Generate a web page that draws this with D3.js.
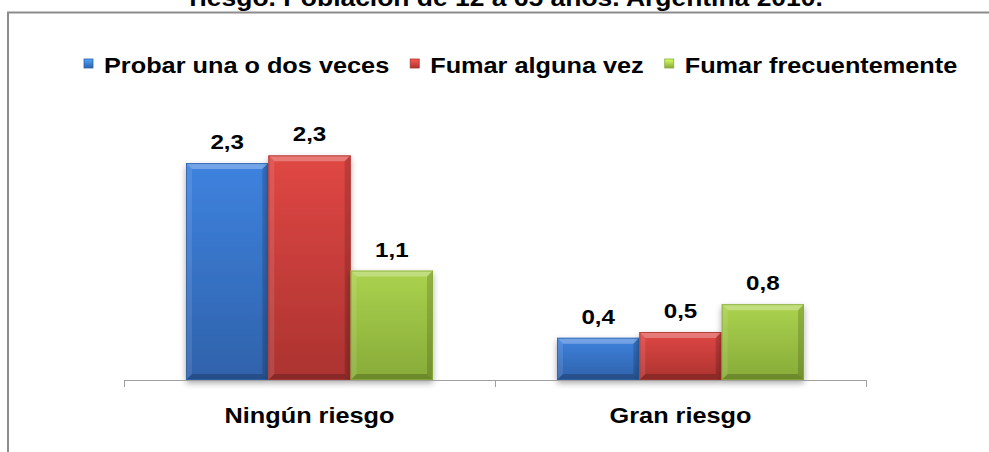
<!DOCTYPE html>
<html>
<head>
<meta charset="utf-8">
<script src="https://cdn.jsdelivr.net/npm/d3@7"></script>
<style>
  html, body { margin: 0; padding: 0; background: #ffffff; }
  svg { display: block; font-family: "Liberation Sans", Arial, sans-serif; }
</style>
</head>
<body>
<svg id="chart" width="989" height="452"></svg>
<script>
// ---- data ----
const titleText = "riesgo. Población de 12 a 65 años. Argentina 2010.";
const categories = ["Ningún riesgo", "Gran riesgo"];
const seriesNames = ["Probar una o dos veces", "Fumar alguna vez", "Fumar frecuentemente"];
const probarValues = [2.26, 0.44];
const fumarAlgunaValues = [2.34, 0.50];
const fumarFrecValues = [1.14, 0.79];
const seriesColors = ["#3b7bd3", "#d44340", "#a2c74a"];
const seriesDark = ["#2f62aa", "#ab3330", "#87ab38"];

const seriesValues = [probarValues, fumarAlgunaValues, fumarFrecValues];

const svg = d3.select("#chart");
const SX = 1.15; // horizontal stretch of the text in the reference

// ---- defs ----
const defs = svg.append("defs");
seriesColors.forEach((c, i) => {
  const g = defs.append("linearGradient").attr("id", "grad" + i)
    .attr("x1", 0).attr("y1", 0).attr("x2", 0).attr("y2", 1);
  g.append("stop").attr("offset", "0%").attr("stop-color", d3.color(c).brighter(0.15));
  g.append("stop").attr("offset", "100%").attr("stop-color", seriesDark[i]);
  const m = defs.append("linearGradient").attr("id", "mgrad" + i)
    .attr("x1", 0).attr("y1", 0).attr("x2", 0).attr("y2", 1);
  m.append("stop").attr("offset", "0%").attr("stop-color", d3.color(c).brighter(0.8));
  m.append("stop").attr("offset", "100%").attr("stop-color", seriesDark[i]);
});
const f = defs.append("filter").attr("id", "shadow")
  .attr("x", "-20%").attr("y", "-20%").attr("width", "140%").attr("height", "140%");
f.append("feDropShadow").attr("dx", 0).attr("dy", 3).attr("stdDeviation", 3)
  .attr("flood-color", "#000").attr("flood-opacity", 0.35);

// ---- frame ----
svg.append("rect").attr("x", 8).attr("y", 12.5).attr("width", 1200).attr("height", 600)
  .attr("fill", "none").attr("stroke", "#8c8c8c").attr("stroke-width", 2);

// ---- title (cut at top, as in the reference) ----
svg.append("text")
  .attr("transform", `translate(506,6) scale(${SX},1)`)
  .attr("text-anchor", "middle")
  .attr("font-size", 23).attr("font-weight", "bold").attr("fill", "#000")
  .text(titleText);

// ---- scales ----
const x0 = d3.scaleBand().domain(categories).range([124, 866]).padding(0);
const x1 = d3.scaleBand().domain(seriesNames).range([0, x0.bandwidth()])
  .paddingInner(0).paddingOuter(0.753);
const y = d3.scaleLinear().domain([0, 2.5]).range([380, 140]);

// ---- bars ----
const data = [];
categories.forEach((cat, ci) => {
  seriesNames.forEach((s, si) => {
    data.push({ cat, s, si, v: seriesValues[si][ci] });
  });
});

const barsG = svg.append("g");
const bar = barsG.selectAll("g.bar").data(data).join("g").attr("class", "bar");
bar.each(function (d) {
  const g = d3.select(this);
  const bx = x0(d.cat) + x1(d.s);
  const bw = x1.bandwidth();
  const by = y(d.v);
  const bh = y(0) - y(d.v);
  const b = Math.min(6, bh / 4);
  g.append("rect").attr("x", bx).attr("y", by).attr("width", bw).attr("height", bh)
    .attr("fill", `url(#grad${d.si})`).attr("filter", "url(#shadow)");
  g.append("polygon").attr("points",
    [[bx, by], [bx + bw, by], [bx + bw - b, by + b], [bx + b, by + b]].join(" "))
    .attr("fill", "#ffffff").attr("opacity", 0.28);
  g.append("polygon").attr("points",
    [[bx, by], [bx + b, by + b], [bx + b, by + bh - b], [bx, by + bh]].join(" "))
    .attr("fill", "#ffffff").attr("opacity", 0.1);
  g.append("polygon").attr("points",
    [[bx + bw, by], [bx + bw, by + bh], [bx + bw - b, by + bh - b], [bx + bw - b, by + b]].join(" "))
    .attr("fill", "#000000").attr("opacity", 0.15);
  g.append("polygon").attr("points",
    [[bx, by + bh], [bx + b, by + bh - b], [bx + bw - b, by + bh - b], [bx + bw, by + bh]].join(" "))
    .attr("fill", "#000000").attr("opacity", 0.2);
  g.append("rect").attr("x", bx + 0.5).attr("y", by + 0.5).attr("width", bw - 1).attr("height", bh - 1)
    .attr("fill", "none").attr("stroke", seriesDark[d.si]).attr("stroke-width", 1).attr("opacity", 0.8);
});

// ---- value labels ----
const fmt = v => d3.format(".1f")(v).replace(".", ",");
svg.append("g").selectAll("text").data(data).join("text")
  .attr("transform", d => `translate(${x0(d.cat) + x1(d.s) + x1.bandwidth() / 2},${y(d.v) - 14}) scale(${SX},1)`)
  .attr("text-anchor", "middle")
  .attr("font-size", 21).attr("font-weight", "bold").attr("fill", "#000")
  .text(d => fmt(d.v));

// ---- x axis ----
const axisG = svg.append("g").attr("transform", `translate(0,${y(0)})`)
  .call(d3.axisBottom(x0).tickSize(0).tickPadding(0));
axisG.select(".domain").remove();
axisG.selectAll(".tick text")
  .attr("y", 0)
  .attr("transform", `translate(0,43) scale(${SX},1)`)
  .attr("dy", 0)
  .attr("font-size", 22).attr("font-weight", "bold").attr("fill", "#000")
  .attr("font-family", "Liberation Sans, Arial, sans-serif");
axisG.append("line").attr("x1", x0.range()[0]).attr("x2", x0.range()[1])
  .attr("y1", 0.5).attr("y2", 0.5).attr("stroke", "#a0a0a0").attr("stroke-width", 1);
const bounds = categories.map(c => x0(c)).concat([x0.range()[1]]);
axisG.selectAll("line.bt").data(bounds).join("line").attr("class", "bt")
  .attr("x1", d => d + 0.5).attr("x2", d => d + 0.5).attr("y1", 0).attr("y2", 7)
  .attr("stroke", "#a0a0a0").attr("stroke-width", 1);

// ---- legend ----
const legend = svg.append("g");
let lx = 84;
seriesNames.forEach((s, i) => {
  legend.append("rect").attr("x", lx).attr("y", 59).attr("width", 9).attr("height", 9)
    .attr("fill", `url(#mgrad${i})`).attr("stroke", seriesDark[i]).attr("stroke-width", 0.8);
  const t = legend.append("text")
    .attr("transform", `translate(${lx + 20},73) scale(${SX},1)`)
    .attr("font-size", 22).attr("font-weight", "bold").attr("fill", "#000")
    .text(s);
  const w = t.node().getComputedTextLength() * SX;
  lx = lx + 20 + w + 21;
});
</script>
</body>
</html>
